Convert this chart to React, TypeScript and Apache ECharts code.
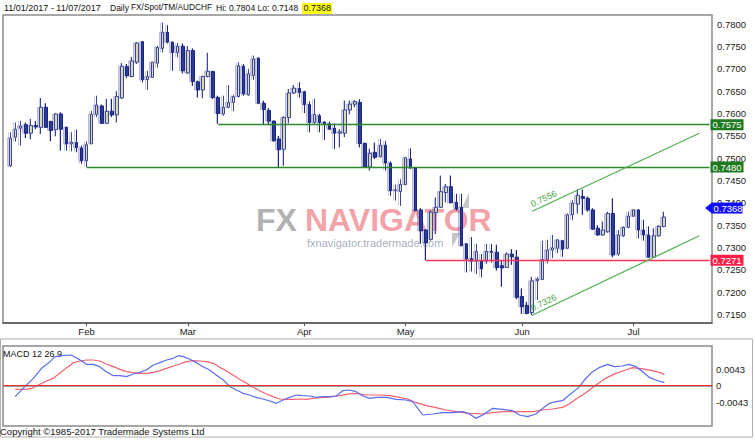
import React, { useEffect, useRef } from "react";
import * as echarts from "echarts";

const FONT = "Liberation Sans, Arial, sans-serif";

// ---- categories: weekdays 11 Jan 2017 .. 11 Jul 2017, plus padding slots
const PAD_BEFORE = 1;
const PAD_AFTER = 9;
function buildDays(): string[] {
  const out: string[] = [];
  const start = Date.UTC(2017, 0, 11);
  const end = Date.UTC(2017, 6, 11);
  for (let t = start; t <= end; t += 86400000) {
    const d = new Date(t);
    const wd = d.getUTCDay();
    if (wd === 0 || wd === 6) continue;
    out.push(d.toISOString().slice(0, 10));
  }
  return out;
}
const tradingDays = buildDays();
const categories: string[] = [
  ...Array.from({ length: PAD_BEFORE }, (_, i) => "pre" + i),
  ...tradingDays,
  ...Array.from({ length: PAD_AFTER }, (_, i) => "post" + i),
];
const monthLabels: Record<string, string> = {
  "2017-02-01": "Feb",
  "2017-03-01": "Mar",
  "2017-04-03": "Apr",
  "2017-05-01": "May",
  "2017-06-01": "Jun",
  "2017-07-03": "Jul",
};

// ---- daily OHLC (AUDCHF)
const opens = [
  0.7483, 0.7547, 0.7567, 0.7575, 0.7556, 0.7573, 0.7569, 0.7614, 0.7582, 0.7564,
  0.7599, 0.7569, 0.7532, 0.7535, 0.7523, 0.7494, 0.7532, 0.7598, 0.7617, 0.7578,
  0.7605, 0.7597, 0.7635, 0.7705, 0.7683, 0.7715, 0.7761, 0.7676, 0.7681, 0.7713,
  0.7746, 0.7782, 0.776, 0.7737, 0.7751, 0.7691, 0.7741, 0.7671, 0.7653, 0.7683,
  0.7694, 0.7636, 0.7599, 0.7614, 0.7625, 0.7638, 0.7706, 0.7642, 0.7685, 0.7724,
  0.7623, 0.7607, 0.7583, 0.7543, 0.752, 0.7591, 0.7646, 0.7656, 0.7649, 0.762,
  0.758, 0.7595, 0.7581, 0.7577, 0.7567, 0.7556, 0.7556, 0.7608, 0.7621, 0.7625,
  0.7533, 0.748, 0.7513, 0.7503, 0.7529, 0.7489, 0.7427, 0.7425, 0.7441, 0.7498,
  0.7478, 0.7384, 0.7339, 0.7318, 0.7378, 0.739, 0.7423, 0.7436, 0.7401, 0.739,
  0.7308, 0.7275, 0.7269, 0.727, 0.7269, 0.7291, 0.7289, 0.7259, 0.7255, 0.7285,
  0.7278, 0.719, 0.717, 0.7154, 0.7225, 0.7228, 0.7272, 0.7294, 0.7298, 0.7315,
  0.7298, 0.7373, 0.7397, 0.7414, 0.741, 0.7384, 0.7343, 0.7328, 0.7335, 0.7376,
  0.7285, 0.7326, 0.7345, 0.737, 0.7384, 0.7339, 0.7328, 0.7278, 0.7326, 0.7347,
];
const closes = [
  0.7545, 0.7565, 0.7572, 0.7556, 0.7573, 0.757, 0.7614, 0.7569, 0.7562, 0.7599,
  0.7565, 0.7532, 0.7536, 0.7524, 0.7494, 0.753, 0.7598, 0.7619, 0.7578, 0.7605,
  0.7597, 0.7638, 0.7706, 0.7685, 0.7718, 0.7758, 0.7676, 0.7683, 0.7715, 0.7748,
  0.7782, 0.776, 0.7737, 0.7751, 0.7696, 0.7741, 0.7672, 0.7653, 0.7683, 0.7695,
  0.7636, 0.76, 0.7614, 0.7625, 0.7638, 0.7707, 0.7644, 0.7689, 0.7722, 0.7623,
  0.7609, 0.7583, 0.7539, 0.7519, 0.7591, 0.7646, 0.7657, 0.7647, 0.762, 0.758,
  0.7598, 0.758, 0.7577, 0.7565, 0.7556, 0.7559, 0.7608, 0.7621, 0.7627, 0.7533,
  0.748, 0.7511, 0.7502, 0.7529, 0.7489, 0.7427, 0.7429, 0.7441, 0.7501, 0.7478,
  0.7382, 0.7337, 0.731, 0.7379, 0.739, 0.7425, 0.7436, 0.74, 0.7386, 0.7304,
  0.7274, 0.7269, 0.7291, 0.7252, 0.7291, 0.7289, 0.7255, 0.7254, 0.7285, 0.7279,
  0.7188, 0.7167, 0.7152, 0.7225, 0.7229, 0.7273, 0.7294, 0.7299, 0.7317, 0.7296,
  0.7373, 0.7399, 0.7417, 0.741, 0.7384, 0.7341, 0.7328, 0.7339, 0.7376, 0.7283,
  0.7328, 0.7345, 0.737, 0.7384, 0.7339, 0.7328, 0.7278, 0.7326, 0.7347, 0.7368,
];
const lows = [
  0.748, 0.7537, 0.7528, 0.7545, 0.7542, 0.7565, 0.7554, 0.7568, 0.7538, 0.7549,
  0.7517, 0.7517, 0.7515, 0.7513, 0.7487, 0.748, 0.7532, 0.7592, 0.7577, 0.7577,
  0.7592, 0.758, 0.7633, 0.768, 0.7681, 0.7711, 0.767, 0.7653, 0.768, 0.7703,
  0.7737, 0.7757, 0.7696, 0.7726, 0.769, 0.7689, 0.7662, 0.7636, 0.7634, 0.7681,
  0.7633, 0.7577, 0.7595, 0.7612, 0.7605, 0.7636, 0.764, 0.764, 0.7675, 0.7621,
  0.7574, 0.7574, 0.7537, 0.748, 0.7483, 0.7578, 0.7644, 0.7636, 0.7601, 0.7558,
  0.7577, 0.7558, 0.7541, 0.7563, 0.7521, 0.7524, 0.7547, 0.7598, 0.7614, 0.7524,
  0.7478, 0.7472, 0.7498, 0.7502, 0.7472, 0.7416, 0.7405, 0.7393, 0.7439, 0.7476,
  0.7382, 0.7308, 0.7271, 0.7315, 0.733, 0.7388, 0.7401, 0.7399, 0.7382, 0.7302,
  0.7244, 0.7246, 0.724, 0.7233, 0.7263, 0.7266, 0.7248, 0.7212, 0.7255, 0.7261,
  0.7184, 0.7151, 0.715, 0.7148, 0.7182, 0.7227, 0.7264, 0.7276, 0.7287, 0.7279,
  0.7296, 0.7361, 0.7376, 0.7373, 0.738, 0.7339, 0.7326, 0.7326, 0.7333, 0.7278,
  0.7281, 0.7323, 0.7343, 0.7368, 0.732, 0.7315, 0.7276, 0.7276, 0.7324, 0.7345,
];
const highs = [
  0.7558, 0.758, 0.7584, 0.758, 0.7588, 0.7583, 0.7635, 0.7623, 0.7584, 0.7601,
  0.7603, 0.7571, 0.7558, 0.7564, 0.7528, 0.7538, 0.7606, 0.764, 0.762, 0.7633,
  0.7633, 0.765, 0.7713, 0.7711, 0.7727, 0.776, 0.7762, 0.7696, 0.7716, 0.7752,
  0.7804, 0.7798, 0.7761, 0.7758, 0.7757, 0.7751, 0.7746, 0.7674, 0.7685, 0.7736,
  0.7696, 0.764, 0.764, 0.7664, 0.7642, 0.7715, 0.7711, 0.77, 0.773, 0.7726,
  0.7629, 0.7612, 0.7584, 0.755, 0.7594, 0.7655, 0.7664, 0.767, 0.7651, 0.7627,
  0.7633, 0.7599, 0.7582, 0.7582, 0.7578, 0.7565, 0.7629, 0.7629, 0.763, 0.7632,
  0.7535, 0.7521, 0.7535, 0.7543, 0.7539, 0.7493, 0.7441, 0.7453, 0.7503, 0.7522,
  0.748, 0.7388, 0.7341, 0.7383, 0.7412, 0.7461, 0.7442, 0.7461, 0.742, 0.742,
  0.7309, 0.7323, 0.7308, 0.7285, 0.7308, 0.7308, 0.7306, 0.727, 0.7289, 0.7296,
  0.7294, 0.7208, 0.7178, 0.7234, 0.7234, 0.7315, 0.7317, 0.7328, 0.7318, 0.7317,
  0.7376, 0.7406, 0.743, 0.743, 0.7414, 0.7388, 0.735, 0.7358, 0.738, 0.741,
  0.7339, 0.7347, 0.738, 0.7385, 0.7385, 0.7362, 0.7347, 0.7343, 0.735, 0.738,
];

// ---- MACD 12 26 9 (x = trading-day index, y = value)
const macdPoints: [number, number][] = [
  [0.9, -0.00289], [2.8, -0.00026], [4.5, 0.00194], [6.1, 0.00458], [7.4, 0.0059], [8.8, 0.00766],
  [10.1, 0.00792], [12.0, 0.0081], [13.7, 0.00678], [15.0, 0.00564], [16.3, 0.00564], [17.6, 0.00502],
  [18.9, 0.0037], [20.3, 0.00265], [21.6, 0.00265], [22.9, 0.00238], [24.2, 0.00309], [25.5, 0.00352],
  [26.8, 0.00414], [28.2, 0.00546], [29.5, 0.00608], [30.8, 0.00678], [32.1, 0.00722], [33.1, 0.00792],
  [34.1, 0.00766], [35.4, 0.00696], [36.7, 0.00608], [38.0, 0.00502], [39.3, 0.00414], [40.6, 0.00282],
  [42.0, 0.0015], [43.3, -0.00026], [44.6, -0.00113], [45.9, -0.00201], [47.2, -0.00245], [48.5, -0.00307],
  [49.8, -0.00351], [51.2, -0.00404], [52.5, -0.00465], [53.8, -0.00377], [55.1, -0.00307], [56.4, -0.00245],
  [57.7, -0.00263], [59.0, -0.00272], [60.4, -0.00307], [61.7, -0.00289], [63.0, -0.00289], [64.3, -0.00272],
  [65.6, -0.00131], [66.9, -0.00113], [68.2, -0.00158], [69.6, -0.00272], [70.9, -0.00333], [72.2, -0.00307],
  [74.2, -0.00307], [76.1, -0.0036], [78.1, -0.00377], [79.4, -0.00421], [80.4, -0.00597], [81.4, -0.00773],
  [83.4, -0.00746], [85.3, -0.00711], [87.3, -0.00711], [89.3, -0.00685], [90.6, -0.00746], [91.9, -0.00861],
  [93.2, -0.00773], [95.2, -0.00597], [97.2, -0.00623], [99.1, -0.00659], [100.5, -0.00773], [102.1, -0.00817],
  [103.7, -0.00746], [105.1, -0.00597], [106.4, -0.00465], [107.7, -0.00421], [109.0, -0.00395], [110.3, -0.00245],
  [112.0, -0.0007], [113.3, 0.0015], [114.9, 0.0037], [116.2, 0.00476], [117.9, 0.00564], [119.2, 0.00502],
  [120.8, 0.00519], [122.1, 0.00564], [123.5, 0.00502], [124.8, 0.0037], [126.1, 0.00221], [127.4, 0.0015],
  [129.1, 0.0008],
];
const signalPoints: [number, number][] = [
  [0.9, -0.00096], [2.8, -0.00096], [4.2, -0.00069], [5.8, 0.00036], [7.1, 0.00124], [8.4, 0.00194],
  [9.7, 0.00326], [11.1, 0.00476], [12.4, 0.00608], [13.7, 0.00652], [15.0, 0.00678], [16.3, 0.00678],
  [17.6, 0.00652], [18.9, 0.00572], [20.3, 0.00502], [21.6, 0.00432], [22.9, 0.0037], [24.2, 0.00344],
  [25.5, 0.00326], [26.8, 0.00326], [28.2, 0.00352], [29.5, 0.00396], [30.8, 0.00458], [32.1, 0.0052],
  [33.4, 0.00572], [34.7, 0.00634], [36.0, 0.0066], [37.4, 0.00652], [38.7, 0.00634], [40.0, 0.0059],
  [41.3, 0.00484], [42.6, 0.00396], [43.9, 0.00282], [45.2, 0.00168], [46.6, 0.00062], [47.9, -0.00043],
  [49.2, -0.00131], [50.5, -0.00219], [51.8, -0.00289], [53.1, -0.00351], [54.4, -0.0036], [55.8, -0.0036],
  [57.1, -0.00351], [58.4, -0.0036], [59.7, -0.00333], [61.0, -0.00316], [62.3, -0.00307], [63.6, -0.00289],
  [65.0, -0.00263], [66.3, -0.00228], [67.6, -0.00201], [68.9, -0.00219], [70.2, -0.00245], [72.8, -0.00245],
  [74.8, -0.00263], [76.8, -0.00307], [78.4, -0.00351], [80.1, -0.00448], [82.1, -0.00527], [84.0, -0.0058],
  [86.0, -0.00641], [88.0, -0.00685], [90.6, -0.00729], [93.2, -0.00746], [95.2, -0.00711], [97.2, -0.00685],
  [99.1, -0.00685], [101.1, -0.00685], [103.1, -0.00685], [105.1, -0.00641], [107.0, -0.00615], [109.0, -0.00571],
  [110.3, -0.00483], [111.6, -0.0036], [113.6, -0.00184], [115.6, 0.00018], [117.5, 0.00194], [119.5, 0.00326],
  [121.5, 0.00414], [122.8, 0.00476], [124.1, 0.00458], [125.4, 0.00432], [126.7, 0.00396], [128.1, 0.00352],
  [129.1, 0.003],
];

// ---- axes ticks / levels
const priceTicks = [0.715, 0.72, 0.725, 0.73, 0.735, 0.74, 0.745, 0.75, 0.755, 0.76, 0.765, 0.77, 0.775, 0.78];
const macdTicks = [-0.0043, 0, 0.0043];
const lastPrice = 0.7368;
const supportLevels = [
  { value: 0.7575, fromDay: 41, color: "#2a8a2a", box: "#1f7a1f" },
  { value: 0.748, fromDay: 15, color: "#2a8a2a", box: "#1f7a1f" },
  { value: 0.7271, fromDay: 82, color: "#ff3358", box: "#ff1f4b" },
];
const channel = [
  { fromDay: 103, from: 0.7381, toSlot: 137, to: 0.7556, label: "0.7556" },
  { fromDay: 103, from: 0.7148, toSlot: 137, to: 0.7326, label: "0.7326" },
];

const GRID_LEFT = 3;
const GRID_WIDTH = 709;
const MAIN_TOP = 15;
const MAIN_H = 308;
const MAIN_MIN = 0.713057;
const MAIN_MAX = 0.782084;
const MACD_TOP = 346;
const MACD_H = 80;

export default function App() {
  const ref = useRef<HTMLDivElement>(null);
  useEffect(() => {
    const chart = echarts.init(ref.current!, null, { renderer: "svg" });
    const candleData: any[] = categories.map((c, i) => {
      const d = i - PAD_BEFORE;
      if (d < 0 || d >= opens.length) return "-";
      return [opens[d], closes[d], lows[d], highs[d]];
    });
    const cat = (day: number) => categories[day + PAD_BEFORE];
    const lastCat = categories[categories.length - 1];

    const levelLines = supportLevels.map((l) => [
      {
        coord: [cat(l.fromDay), l.value],
        lineStyle: { color: l.color, width: 1.3, type: "solid" },
        label: {
          show: true,
          position: "end",
          distance: 1,
          formatter: l.value.toFixed(4),
          color: "#fff",
          backgroundColor: l.box,
          padding: [1, 2, 0, 2],
          fontSize: 9.5,
          fontFamily: FONT,
        },
      },
      { coord: [lastCat, l.value] },
    ]);
    const channelLines = channel.map((c) => [
      {
        coord: [cat(c.fromDay), c.from],
        lineStyle: { color: "#4db04d", width: 1.2, type: "solid" },
        label: {
          show: true,
          position: "insideStartTop",
          distance: 2,
          formatter: c.label,
          color: "#45a845",
          fontSize: 9,
          fontFamily: FONT,
        },
      },
      { coord: [categories[c.toSlot], c.to] },
    ]);

    const option: any = {
      animation: false,
      backgroundColor: "#fff",
      textStyle: { fontFamily: FONT },
      grid: [
        { left: GRID_LEFT, top: MAIN_TOP, width: GRID_WIDTH, height: MAIN_H, show: true, borderColor: "#8a8a8a", borderWidth: 1.5, backgroundColor: "transparent" },
        { left: GRID_LEFT, top: MACD_TOP, width: GRID_WIDTH, height: MACD_H, show: true, borderColor: "#8a8a8a", borderWidth: 1.5 },
        { left: GRID_LEFT - 1.5, top: MAIN_TOP, width: GRID_WIDTH, height: MAIN_H, show: false },
      ],
      xAxis: [
        {
          type: "category",
          gridIndex: 0,
          data: categories,
          boundaryGap: true,
          axisLine: { show: true, lineStyle: { color: "#555", width: 1.5 } },
          axisTick: {
            show: true,
            alignWithLabel: true,
            length: 3,
            interval: (i: number, v: string) => !!monthLabels[v],
            lineStyle: { color: "#555" },
          },
          axisLabel: {
            interval: (i: number, v: string) => !!monthLabels[v],
            formatter: (v: string) => monthLabels[v] || "",
            color: "#222",
            fontSize: 9.5,
            fontFamily: FONT,
            margin: 3,
          },
          splitLine: { show: false },
        },
        {
          type: "value",
          gridIndex: 1,
          min: -PAD_BEFORE - 0.5,
          max: categories.length - PAD_BEFORE - 0.5,
          show: false,
        },
        {
          type: "category",
          gridIndex: 2,
          data: categories,
          boundaryGap: true,
          show: false,
        },
      ],
      yAxis: [
        {
          type: "value",
          gridIndex: 0,
          position: "right",
          min: MAIN_MIN,
          max: MAIN_MAX,
          axisLine: { show: false },
          axisTick: { show: false },
          splitLine: { show: false },
          axisLabel: {
            customValues: priceTicks,
            formatter: (v: number) => v.toFixed(4),
            color: "#222",
            fontSize: 9.5,
            fontFamily: FONT,
            margin: 5,
          },
        },
        {
          type: "value",
          gridIndex: 1,
          position: "right",
          min: -0.01063,
          max: 0.010472,
          axisLine: { show: false },
          axisTick: { show: false },
          splitLine: { show: false },
          axisLabel: {
            customValues: macdTicks,
            formatter: (v: number) => (v === 0 ? "0" : v.toFixed(4)),
            color: "#222",
            fontSize: 9.5,
            fontFamily: FONT,
            margin: 4,
          },
        },
        {
          type: "value",
          gridIndex: 2,
          min: MAIN_MIN,
          max: MAIN_MAX,
          show: false,
        },
      ],
      series: [
        {
          name: "shadow",
          type: "candlestick",
          xAxisIndex: 2,
          yAxisIndex: 2,
          data: candleData,
          barWidth: 4,
          z: 1,
          silent: true,
          itemStyle: {
            color: "rgba(110,110,175,0.35)",
            color0: "rgba(110,110,175,0.35)",
            borderColor: "rgba(110,110,175,0.35)",
            borderColor0: "rgba(110,110,175,0.35)",
            borderWidth: 1,
          },
        },
        {
          name: "AUDCHF",
          type: "candlestick",
          xAxisIndex: 0,
          yAxisIndex: 0,
          data: candleData,
          barWidth: 3,
          z: 3,
          itemStyle: {
            color: "#d9d9b0",
            color0: "#2c3c96",
            borderColor: "#3b4799",
            borderColor0: "#1a2680",
            borderWidth: 1,
          },
          markLine: {
            symbol: "none",
            silent: true,
            animation: false,
            data: [...levelLines, ...channelLines],
          },
        },
        {
          name: "MACD",
          type: "line",
          xAxisIndex: 1,
          yAxisIndex: 1,
          data: macdPoints,
          showSymbol: false,
          lineStyle: { color: "#5b6cf2", width: 1.2 },
          z: 3,
          markLine: {
            symbol: "none",
            silent: true,
            label: { show: false },
            data: [
              { yAxis: 0.0043, lineStyle: { color: "#44d444", width: 1, type: "solid" } },
              { yAxis: 0, lineStyle: { color: "#808080", width: 1.5, type: "solid" } },
              { yAxis: -0.0043, lineStyle: { color: "#ff2a2a", width: 1, type: "solid" } },
            ],
          },
        },
        {
          name: "Signal",
          type: "line",
          xAxisIndex: 1,
          yAxisIndex: 1,
          data: signalPoints,
          showSymbol: false,
          lineStyle: { color: "#f4606c", width: 1.2 },
          z: 2,
        },
      ],
      graphic: [
        { type: "text", left: 4, top: 3, style: { text: "11/01/2017 - 11/07/2017", font: `9px ${FONT}`, fill: "#111" } },
        { type: "text", left: 110, top: 3, style: { text: "Daily", font: `8.5px ${FONT}`, fill: "#111" } },
        { type: "text", left: 131, top: 3, style: { text: "FX/Spot/TM/AUDCHF", font: `8.3px ${FONT}`, fill: "#111" } },
        { type: "text", left: 216, top: 3, style: { text: "Hi: 0.7804 Lo: 0.7148", font: `8.6px ${FONT}`, fill: "#111" } },
        { type: "rect", shape: { x: 302, y: 3, width: 30, height: 11 }, style: { fill: "#ffff1a" } },
        { type: "text", left: 303.5, top: 3, style: { text: "0.7368", font: `9px ${FONT}`, fill: "#111" } },
        { type: "text", x: 256, y: 220, style: { text: "FX", font: `bold 32px ${FONT}`, fill: "rgba(125,125,125,0.6)", textVerticalAlign: "middle" }, z: 0 },
        { type: "text", x: 305, y: 220, style: { text: "NAVIGATOR", font: `bold 32px ${FONT}`, fill: "rgba(232,70,82,0.5)", textVerticalAlign: "middle" }, z: 0 },
        { type: "text", x: 307, y: 243, style: { text: "fxnavigator.tradermade.com", font: `11px ${FONT}`, fill: "rgba(110,125,150,0.65)", textVerticalAlign: "middle" }, z: 0 },
        { type: "polygon", shape: { points: [[462, 208], [469, 193], [469, 208]] }, style: { fill: "rgba(140,140,140,0.5)" } },
        { type: "polygon", shape: { points: [[452, 233], [460, 233], [452, 247]] }, style: { fill: "rgba(140,140,140,0.5)" } },
        { type: "text", left: 3, top: 349, style: { text: "MACD 12 26 9", font: `9px ${FONT}`, fill: "#111" } },
        { type: "rect", shape: { x: 0.5, y: 339, width: 752, height: 98 }, style: { fill: "none", stroke: "#b0b0b0", lineWidth: 1 } },
        { type: "text", left: 0, top: 426, style: { text: "Copyright \u00a91985-2017 Tradermade Systems Ltd", font: `9.5px ${FONT}`, fill: "#111" } },
      ],
    };
    chart.setOption(option);

    // last-price tag on the right axis (the reference draws it just above the price level)
    const py = (chart.convertToPixel({ yAxisIndex: 0 }, lastPrice) as number) - 9;
    const gx = GRID_LEFT + GRID_WIDTH;
    chart.setOption({
      graphic: [
        {
          id: "lastArrow",
          type: "polygon",
          z: 10,
          shape: { points: [[gx - 7, py], [gx, py - 5.5], [gx, py + 5.5]] },
          style: { fill: "#1010ff" },
        },
        {
          id: "lastBox",
          type: "rect",
          z: 10,
          shape: { x: gx - 0.5, y: py - 5.5, width: 31, height: 11 },
          style: { fill: "#1010ff" },
        },
        {
          id: "lastText",
          type: "text",
          z: 11,
          x: gx + 1.5,
          y: py + 0.5,
          style: { text: lastPrice.toFixed(4), font: `9.5px ${FONT}`, fill: "#fff", textVerticalAlign: "middle" },
        },
      ],
    });
    return () => chart.dispose();
  }, []);
  return (
    <div
      ref={ref}
      style={{ position: "fixed", left: 0, top: 0, width: 755, height: 440, background: "#fff" }}
    />
  );
}
